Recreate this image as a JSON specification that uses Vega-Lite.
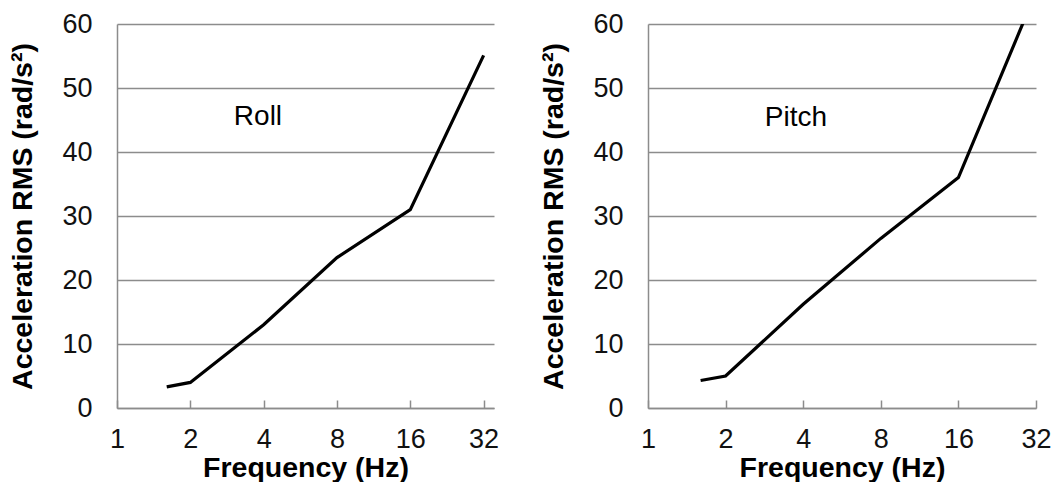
{
  "$schema": "https://vega.github.io/schema/vega-lite/v6.json",
  "background": "white",
  "padding": {"left": 8, "top": 10, "right": 5, "bottom": 0},
  "spacing": 40,
  "datasets": {
    "roll": [
      {"freq": 1.6, "rms": 3.3},
      {"freq": 2, "rms": 4.0},
      {"freq": 4, "rms": 13.0},
      {"freq": 8, "rms": 23.5},
      {"freq": 16, "rms": 31.0},
      {"freq": 32, "rms": 55.1}
    ],
    "pitch": [
      {"freq": 1.6, "rms": 4.3},
      {"freq": 2, "rms": 5.0},
      {"freq": 4, "rms": 16.2},
      {"freq": 8, "rms": 26.5},
      {"freq": 16, "rms": 36.0},
      {"freq": 32, "rms": 65.0}
    ]
  },
  "config": {
    "view": {"stroke": null},
    "font": "Liberation Sans",
    "axis": {
      "labelFont": "Liberation Sans",
      "titleFont": "Liberation Sans",
      "labelFontSize": 27,
      "titleFontSize": 28.5,
      "titleFontWeight": "bold",
      "labelColor": "#111111",
      "titleColor": "#000000",
      "domainColor": "#8c8c8c",
      "domainWidth": 1.5,
      "tickColor": "#8c8c8c",
      "tickWidth": 1.5,
      "gridColor": "#8c8c8c",
      "gridWidth": 1.5,
      "gridOpacity": 1,
      "labelFlush": false,
      "labelOverlap": false
    }
  },
  "hconcat": [
    {
      "width": 377,
      "height": 384,
      "layer": [
        {
          "data": {"name": "roll"},
          "mark": {"type": "line", "color": "black", "strokeWidth": 3.2, "clip": true},
          "encoding": {
            "x": {
              "field": "freq", "type": "quantitative",
              "scale": {"type": "log", "base": 2, "domain": [1, 35.3], "nice": false},
              "axis": {"title": "Frequency (Hz)", "values": [1, 2, 4, 8, 16, 32], "format": "d", "grid": false, "tickSize": -8, "labelPadding": 26, "titlePadding": 1}
            },
            "y": {
              "field": "rms", "type": "quantitative",
              "scale": {"domain": [0, 60], "nice": false},
              "axis": {"title": "Acceleration RMS (rad/s²)", "values": [0, 10, 20, 30, 40, 50, 60], "grid": true, "ticks": false, "labelPadding": 25, "titlePadding": 24}
            }
          }
        },
        {
          "data": {"values": [{"label": "Roll"}]},
          "mark": {"type": "text", "fontSize": 28, "font": "Liberation Sans", "color": "black"},
          "encoding": {
            "x": {"datum": 3.79, "type": "quantitative"},
            "y": {"datum": 45.5, "type": "quantitative"},
            "text": {"field": "label"}
          }
        }
      ]
    },
    {
      "width": 388,
      "height": 384,
      "layer": [
        {
          "data": {"name": "pitch"},
          "mark": {"type": "line", "color": "black", "strokeWidth": 3.2, "clip": true},
          "encoding": {
            "x": {
              "field": "freq", "type": "quantitative",
              "scale": {"type": "log", "base": 2, "domain": [1, 32], "nice": false},
              "axis": {"title": "Frequency (Hz)", "values": [1, 2, 4, 8, 16, 32], "format": "d", "grid": false, "tickSize": -8, "labelPadding": 26, "titlePadding": 1}
            },
            "y": {
              "field": "rms", "type": "quantitative",
              "scale": {"domain": [0, 60], "nice": false},
              "axis": {"title": "Acceleration RMS (rad/s²)", "values": [0, 10, 20, 30, 40, 50, 60], "grid": true, "ticks": false, "labelPadding": 25, "titlePadding": 24}
            }
          }
        },
        {
          "data": {"values": [{"label": "Pitch"}]},
          "mark": {"type": "text", "fontSize": 28, "font": "Liberation Sans", "color": "black"},
          "encoding": {
            "x": {"datum": 3.75, "type": "quantitative"},
            "y": {"datum": 45.3, "type": "quantitative"},
            "text": {"field": "label"}
          }
        }
      ]
    }
  ]
}
